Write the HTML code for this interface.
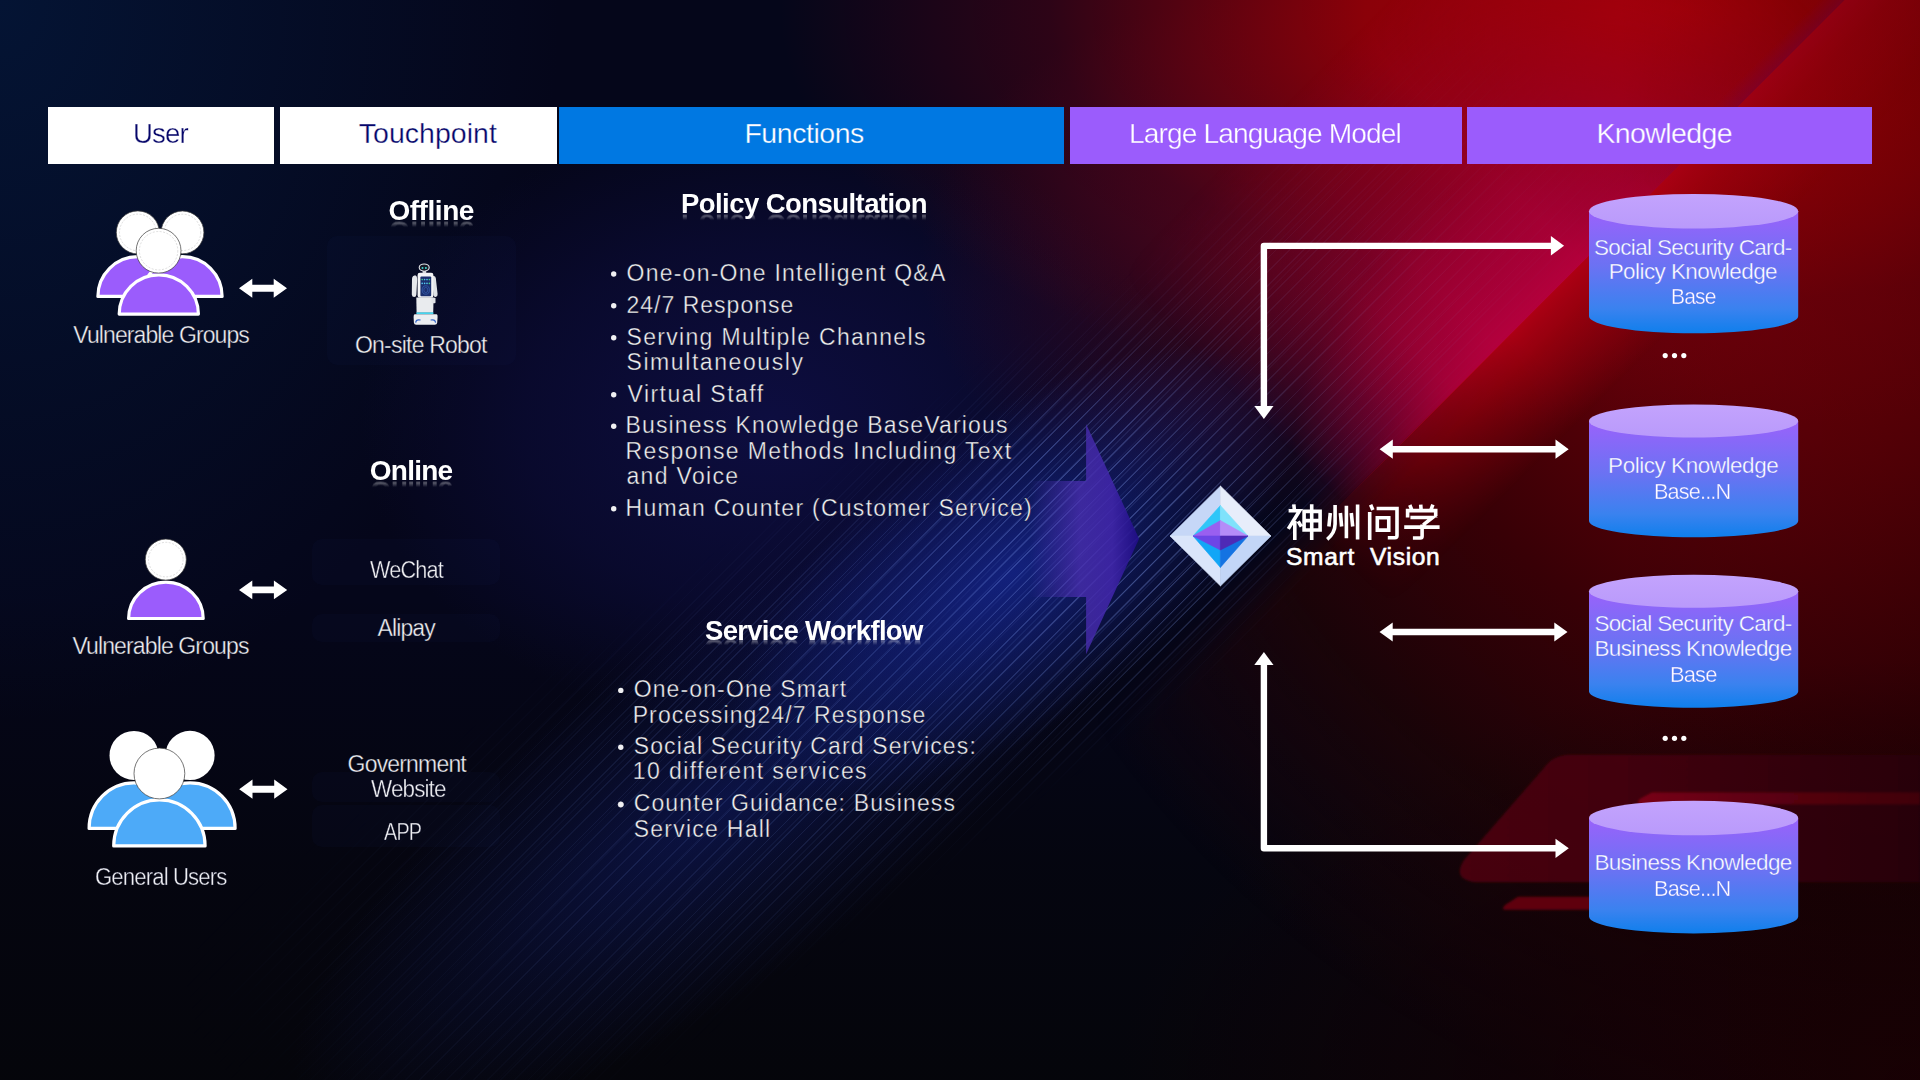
<!DOCTYPE html>
<html><head><meta charset="utf-8"><title>Smart Vision</title>
<style>
html,body{margin:0;padding:0;width:1920px;height:1080px;overflow:hidden;background:#05061a}
.abs{position:absolute}
.t{position:absolute;font-family:"Liberation Sans",sans-serif;line-height:1;white-space:nowrap;color:#fff}
.hb{position:absolute;top:107px;height:57px}
.hd{font-size:28px}
.b{font-weight:bold}
.ul{font-size:23px;letter-spacing:1.2px;color:#f4f4fa}
.cy{font-size:22px;color:#f6f4ff;text-align:center;width:240px}
.lab{font-size:22px;color:#f2f2f2}
.rf{-webkit-box-reflect:below -8.5px linear-gradient(transparent 62%,rgba(0,0,0,.35) 78%,transparent 86%)}
.tk{-webkit-text-stroke:0.5px rgba(10,12,40,0.75)}
.tc{-webkit-text-stroke:0.5px rgba(95,105,240,0.7)}
.tw{-webkit-text-stroke:0.5px rgba(255,255,255,0.7)}
.tb{-webkit-text-stroke:0.5px rgba(0,120,226,0.7)}
.sv{-webkit-text-stroke:0.6px #fff}
.tp{-webkit-text-stroke:0.5px rgba(155,92,252,0.7)}
</style></head><body>
<div id="root" style="position:relative;width:1920px;height:1080px;overflow:hidden">
<!--BG-->
<div class="abs" style="left:0;top:0;width:1920px;height:1080px;background:linear-gradient(to bottom,rgba(5,5,9,0) 55%,rgba(5,5,9,0.6) 80%,rgba(5,5,9,0.9) 100%)"></div>
<div class="abs" style="left:0;top:0;width:1920px;height:1080px;background:radial-gradient(ellipse 560px 720px at 0 0,#041434 0%,rgba(4,20,52,0.55) 45%,rgba(4,20,52,0) 100%)"></div>
<div class="abs" style="left:360px;top:110px;width:820px;height:620px;background:radial-gradient(closest-side,rgba(14,14,68,0.9),rgba(14,14,68,0.45) 60%,rgba(14,14,68,0))"></div>
<div class="abs" style="left:0;top:0;width:1920px;height:1080px;background:radial-gradient(ellipse 330px 260px at 1250px 260px,rgba(72,6,32,0.75) 0%,rgba(60,6,34,0.45) 55%,rgba(50,6,34,0) 100%)"></div>
<div class="abs" style="left:0;top:0;width:1920px;height:1080px;-webkit-mask-image:linear-gradient(135deg,transparent 1280px,#000 1330px);background:radial-gradient(ellipse 1000px 1000px at 1920px 160px,#900008 0%,#660008 30%,#380006 56%,rgba(30,4,6,0.85) 76%,rgba(14,3,8,0) 100%)"></div>
<div class="abs" style="left:0;top:0;width:1920px;height:1080px;background:radial-gradient(ellipse 800px 420px at 1920px 1080px,rgba(28,0,4,0.9) 0%,rgba(22,0,4,0.6) 50%,rgba(20,0,4,0) 100%)"></div>
<div class="abs" style="left:0;top:0;width:1920px;height:1080px;background:radial-gradient(ellipse 900px 420px at 1680px 10px,rgba(166,0,4,1) 0%,rgba(162,0,6,0.85) 35%,rgba(120,0,16,0.35) 70%,rgba(100,0,20,0) 100%)"></div>
<div class="abs" style="left:10px;top:540px;width:1500px;height:440px;transform:rotate(-35.5deg)">
 <div class="abs" style="left:0;top:0;width:1500px;height:440px;background:radial-gradient(ellipse 330px 150px at 1065px 215px,rgba(22,40,150,0.75),rgba(22,40,150,0.35) 55%,rgba(22,40,150,0)),radial-gradient(ellipse 520px 170px at 700px 235px,rgba(18,32,120,0.5),rgba(18,32,120,0.2) 55%,rgba(18,32,120,0))"></div>
 <div class="abs" style="left:0;top:0;width:1500px;height:440px;-webkit-mask-image:linear-gradient(to right,transparent 8%,rgba(0,0,0,.3) 30%,rgba(0,0,0,.8) 50%,#000 60%,#000 78%,transparent 90%)">
  <div style="width:100%;height:100%;-webkit-mask-image:linear-gradient(to bottom,transparent 5%,#000 30%,#000 70%,transparent 95%)">
   <div class="abs" style="left:-300px;top:-400px;width:2100px;height:1240px;transform:rotate(-9.5deg);background:repeating-linear-gradient(to bottom,rgba(130,165,255,0.15) 0px,rgba(130,165,255,0.15) 1.2px,transparent 1.2px,transparent 9.6px),repeating-linear-gradient(to bottom,rgba(130,165,255,0.08) 0px,rgba(130,165,255,0.08) 1.4px,transparent 1.4px,transparent 27.5px)"></div>
  </div>
 </div>
</div>
<div class="abs" style="left:-100px;top:0;width:2400px;height:1200px;transform:rotate(-45deg)">
 <div class="abs" style="left:0;top:380px;width:2400px;height:323px;background:linear-gradient(to bottom,rgba(150,0,45,0) 0%,rgba(158,0,46,0.45) 40%,rgba(165,0,50,0.75) 66%,rgba(175,0,56,0.92) 90%,rgba(185,0,60,1) 100%);-webkit-mask-image:linear-gradient(to right,transparent 1440px,rgba(0,0,0,.45) 1530px,rgba(0,0,0,.85) 1600px,#000 1660px,#000 1780px,rgba(0,0,0,.35) 1960px,transparent 2120px)"></div>
 <div class="abs" style="left:1150px;top:402px;width:1000px;height:300px;background:radial-gradient(ellipse 260px 150px at 520px 300px,rgba(176,0,62,0.6) 0%,rgba(170,0,56,0.35) 50%,rgba(160,0,50,0) 100%)"></div>
 <div class="abs" style="left:1880px;top:684px;width:380px;height:36px;background:linear-gradient(to bottom,rgba(130,0,60,0) 0%,rgba(130,0,64,0.5) 50%,rgba(130,0,60,0) 100%);-webkit-mask-image:linear-gradient(to right,transparent 0%,#000 35%,#000 70%,transparent 100%)"></div>
 <div class="abs" style="left:0;top:702px;width:2400px;height:110px;background:linear-gradient(to bottom,rgba(178,0,20,0.95) 0%,rgba(170,0,16,0.7) 30%,rgba(150,0,10,0) 100%);-webkit-mask-image:linear-gradient(to right,transparent 1400px,rgba(0,0,0,.6) 1540px,#000 1680px)"></div>
 <div class="abs" style="left:0;top:390px;width:2400px;height:316px;-webkit-mask-image:linear-gradient(to right,transparent 1000px,rgba(0,0,0,.6) 1150px,#000 1250px,#000 1330px,rgba(0,0,0,.45) 1500px,rgba(0,0,0,.15) 1700px,transparent 1900px)">
  <div style="width:100%;height:100%;background:repeating-linear-gradient(to bottom,rgba(150,175,255,0.18) 0px,rgba(150,175,255,0.18) 1.2px,transparent 1.2px,transparent 9.6px),repeating-linear-gradient(to bottom,rgba(150,175,255,0.10) 0px,rgba(150,175,255,0.10) 1.4px,transparent 1.4px,transparent 27.5px);-webkit-mask-image:linear-gradient(to bottom,transparent 0%,#000 30%,#000 85%,transparent 100%)"></div>
 </div>
</div>
<svg class="abs" style="left:0;top:0" width="1920" height="1080" viewBox="0 0 1920 1080">
<defs>
<linearGradient id="trainG" x1="1450" y1="0" x2="1920" y2="0" gradientUnits="userSpaceOnUse">
<stop offset="0" stop-color="#52000e"/><stop offset="0.5" stop-color="#44000c"/><stop offset="1" stop-color="#330008"/>
</linearGradient>
<linearGradient id="stripeG" x1="1638" y1="0" x2="1920" y2="0" gradientUnits="userSpaceOnUse">
<stop offset="0" stop-color="#7a0014"/><stop offset="1" stop-color="#520010"/>
</linearGradient>
<filter id="tb" x="-10%" y="-10%" width="120%" height="120%"><feGaussianBlur stdDeviation="1.2"/></filter>
</defs>
<g filter="url(#tb)">
<path d="M1570,754.7 L1920,754.7 L1920,882.3 L1482,882.3 Q1450,882 1464,860 L1544,768 Q1553,755 1570,754.7 Z" fill="url(#trainG)" opacity="0.85"/>
<path d="M1652,792.5 L1920,792.5 L1920,804.2 L1640,804.2 Q1636,804 1640,799 Z" fill="url(#stripeG)"/>
<path d="M1518,896.7 L1600,896.7 L1600,909.7 L1505,909.7 Q1501,909.5 1505,905 Z" fill="#5e000d"/>
</g>
</svg>
<div class="abs" style="left:1620px;top:0;width:300px;height:1080px;background:linear-gradient(to left,rgba(16,0,0,0.28) 0%,rgba(16,0,0,0) 100%)"></div>
<!--/BG-->

<!-- header boxes -->
<div class="hb" style="left:48px;width:226px;background:#fff"></div>
<div class="hb" style="left:280px;width:277px;background:#fff"></div>
<div class="hb" style="left:559px;width:505px;background:#0078e2"></div>
<div class="hb" style="left:1070px;width:392px;background:#9b5cfc"></div>
<div class="hb" style="left:1467px;width:405px;background:#9b5cfc"></div>


<!--ICONS-->
<svg class="abs" style="left:0;top:0" width="1920" height="1080" viewBox="0 0 1920 1080">
<path d="M97.9,296.4 A39.9,39.8 0 0 1 177.7,296.4 Z" fill="#9b5cfc" stroke="#fff" stroke-width="3.2" stroke-linejoin="round"/>
<path d="M142.9,296.4 A39.6,39.8 0 0 1 222.1,296.4 Z" fill="#9b5cfc" stroke="#fff" stroke-width="3.2" stroke-linejoin="round"/>
<circle cx="137.8" cy="232.4" r="21.5" fill="#fff" stroke="#3a3a3a" stroke-width="0.7"/><circle cx="137.8" cy="232.4" r="18.3" fill="none" stroke="#c8c8c8" stroke-width="0.6" stroke-dasharray="2 1.5"/>
<circle cx="182.5" cy="232.4" r="21.4" fill="#fff" stroke="#3a3a3a" stroke-width="0.7"/><circle cx="182.5" cy="232.4" r="18.2" fill="none" stroke="#c8c8c8" stroke-width="0.6" stroke-dasharray="2 1.5"/>
<path d="M119.2,314.1 A39.6,39.3 0 0 1 198.4,314.1 Z" fill="#9b5cfc" stroke="#fff" stroke-width="3.2" stroke-linejoin="round"/>
<circle cx="158.6" cy="250.7" r="22.4" fill="#fff" stroke="#3a3a3a" stroke-width="0.7"/><circle cx="158.6" cy="250.7" r="19.2" fill="none" stroke="#c8c8c8" stroke-width="0.6" stroke-dasharray="2 1.5"/>
<path d="M128.6,618.5 A37.3,36.4 0 0 1 203.2,618.5 Z" fill="#9b5cfc" stroke="#fff" stroke-width="3.2" stroke-linejoin="round"/>
<circle cx="165.8" cy="559.6" r="20.5" fill="#fff" stroke="#3a3a3a" stroke-width="0.7"/><circle cx="165.8" cy="559.6" r="17.3" fill="none" stroke="#c8c8c8" stroke-width="0.6" stroke-dasharray="2 1.5"/>
<path d="M89.1,828.4 A44.9,45.5 0 0 1 178.9,828.4 Z" fill="#4daaf8" stroke="#fff" stroke-width="3.2" stroke-linejoin="round"/>
<path d="M144.9,828.4 A45.1,45.5 0 0 1 235.1,828.4 Z" fill="#4daaf8" stroke="#fff" stroke-width="3.2" stroke-linejoin="round"/>
<circle cx="134" cy="755.4" r="24.5" fill="#fff"/>
<circle cx="190" cy="755.4" r="24.6" fill="#fff"/>
<path d="M113.7,845.9 A45.7,46.0 0 0 1 205.1,845.9 Z" fill="#4daaf8" stroke="#fff" stroke-width="3.2" stroke-linejoin="round"/>
<circle cx="159.4" cy="773.5" r="25.4" fill="#fff" stroke="#3a3a3a" stroke-width="0.7"/>
<path d="M239,288.3 L252.3,278.8 L252.3,284.85 L273.7,284.85 L273.7,278.8 L287,288.3 L273.7,297.8 L273.7,291.75 L252.3,291.75 L252.3,297.8 Z" fill="#fff"/>
<path d="M239,589.9 L252.3,580.6 L252.3,586.4499999999999 L273.9,586.4499999999999 L273.9,580.6 L287.2,589.9 L273.9,599.1999999999999 L273.9,593.35 L252.3,593.35 L252.3,599.1999999999999 Z" fill="#fff"/>
<path d="M239.2,789.2 L252.5,779.6 L252.5,785.75 L274.2,785.75 L274.2,779.6 L287.5,789.2 L274.2,798.8000000000001 L274.2,792.6500000000001 L252.5,792.6500000000001 L252.5,798.8000000000001 Z" fill="#fff"/>
<path d="M1263.9,406.5 L1263.9,245.9 L1551,245.9" fill="none" stroke="#fff" stroke-width="6.4" stroke-linejoin="round"/>
<path d="M1550.9,236.1 L1564.1,245.8 L1550.9,255.4 Z" fill="#fff"/>
<path d="M1254.3,406 L1273.5,406 L1263.9,419 Z" fill="#fff"/>
<path d="M1263.9,664.5 L1263.9,848.3 L1556,848.3" fill="none" stroke="#fff" stroke-width="6.4" stroke-linejoin="round"/>
<path d="M1555.5,838.7 L1568.8,848.3 L1555.5,857.9 Z" fill="#fff"/>
<path d="M1254.3,665 L1273.5,665 L1263.9,652 Z" fill="#fff"/>
<path d="M1379.6,449.2 L1392.8,439.59999999999997 L1392.8,446.0 L1555.5,446.0 L1555.5,439.59999999999997 L1568.7,449.2 L1555.5,458.8 L1555.5,452.4 L1392.8,452.4 L1392.8,458.8 Z" fill="#fff"/>
<path d="M1379.5,632 L1392.7,622.6 L1392.7,628.8 L1554.3,628.8 L1554.3,622.6 L1567.5,632 L1554.3,641.4 L1554.3,635.2 L1392.7,635.2 L1392.7,641.4 Z" fill="#fff"/>
</svg>
<!--/ICONS-->
<!--GFX-->
<svg class="abs" style="left:0;top:0" width="1920" height="1080" viewBox="0 0 1920 1080">
<defs>
<linearGradient id="cylBody" x1="0" y1="0" x2="0" y2="1">
<stop offset="0" stop-color="#9a62fb"/><stop offset="0.45" stop-color="#6b72f3"/><stop offset="0.8" stop-color="#3a82ef"/><stop offset="1" stop-color="#0f7fec"/>
</linearGradient>
<linearGradient id="cylTop" x1="0" y1="0" x2="0" y2="1">
<stop offset="0" stop-color="#c3a3fd"/><stop offset="1" stop-color="#b99afb"/>
</linearGradient>
<linearGradient id="chev" x1="1030" y1="0" x2="1140" y2="0" gradientUnits="userSpaceOnUse">
<stop offset="0" stop-color="#4a2eb0" stop-opacity="0"/>
<stop offset="0.45" stop-color="#4a2eb0" stop-opacity="0.85"/>
<stop offset="0.75" stop-color="#3f25a8"/>
<stop offset="1" stop-color="#1e0c86"/>
</linearGradient>
</defs>
<path d="M1030,481 L1086.1,481 L1086.1,424 L1139.1,538.7 L1086.1,654.2 L1086.1,597 L1030,597 Z" fill="url(#chev)" opacity="0.9"/>
<rect x="327" y="236" width="189" height="129" rx="10" fill="#2a3a8a" fill-opacity="0.05"/>
<rect x="312" y="539" width="188" height="46" rx="10" fill="#2a3a8a" fill-opacity="0.05"/>
<rect x="312" y="614" width="188" height="28" rx="10" fill="#2a3a8a" fill-opacity="0.05"/>
<rect x="312" y="772" width="188" height="30" rx="10" fill="#2a3a8a" fill-opacity="0.05"/>
<rect x="312" y="805" width="188" height="42" rx="10" fill="#2a3a8a" fill-opacity="0.05"/>
<path d="M1589,211.2 L1589,316.3 A104.6,17.0 0 0 0 1798.2,316.3 L1798.2,211.2 Z" fill="url(#cylBody)"/>
<ellipse cx="1693.6" cy="211.2" rx="104.6" ry="17.299999999999983" fill="url(#cylTop)"/>
<path d="M1589,421 L1589,521 A104.6,16.200000000000045 0 0 0 1798.2,521 L1798.2,421 Z" fill="url(#cylBody)"/>
<ellipse cx="1693.6" cy="421" rx="104.6" ry="16.5" fill="url(#cylTop)"/>
<path d="M1589,591.3 L1589,691.5 A104.6,16.299999999999955 0 0 0 1798.2,691.5 L1798.2,591.3 Z" fill="url(#cylBody)"/>
<ellipse cx="1693.6" cy="591.3" rx="104.6" ry="16.5" fill="url(#cylTop)"/>
<path d="M1589,818 L1589,916.6 A104.6,16.799999999999955 0 0 0 1798.2,916.6 L1798.2,818 Z" fill="url(#cylBody)"/>
<ellipse cx="1693.6" cy="818" rx="104.6" ry="17.299999999999955" fill="url(#cylTop)"/>
<circle cx="1665.2" cy="355.6" r="2.6" fill="#fff"/>
<circle cx="1674.5" cy="355.6" r="2.6" fill="#fff"/>
<circle cx="1683.8" cy="355.6" r="2.6" fill="#fff"/>
<circle cx="1665.2" cy="738.3" r="2.6" fill="#fff"/>
<circle cx="1674.5" cy="738.3" r="2.6" fill="#fff"/>
<circle cx="1683.8" cy="738.3" r="2.6" fill="#fff"/>
<circle cx="613.7" cy="274.0" r="2.7" fill="#f0f0f2"/>
<circle cx="613.7" cy="305.7" r="2.7" fill="#f0f0f2"/>
<circle cx="613.7" cy="337.8" r="2.7" fill="#f0f0f2"/>
<circle cx="613.7" cy="394.8" r="2.7" fill="#f0f0f2"/>
<circle cx="613.7" cy="426.2" r="2.7" fill="#f0f0f2"/>
<circle cx="613.7" cy="508.7" r="2.7" fill="#f0f0f2"/>
<circle cx="620.8" cy="690.4" r="2.7" fill="#f0f0f2"/>
<circle cx="620.8" cy="747.2" r="2.7" fill="#f0f0f2"/>
<circle cx="620.8" cy="804.5" r="2.7" fill="#f0f0f2" stroke="#f0f0f2" stroke-width="0.6" stroke-linejoin="round"/>
<polygon points="1220.5,486 1170,536 1220.5,536" fill="#c6d7f7" stroke="#c6d7f7" stroke-width="0.6" stroke-linejoin="round"/>
<polygon points="1220.5,486 1271,536 1220.5,536" fill="#e7edfa" stroke="#e7edfa" stroke-width="0.6" stroke-linejoin="round"/>
<polygon points="1170,536 1220.5,586 1220.5,536" fill="#dae5fa" stroke="#dae5fa" stroke-width="0.6" stroke-linejoin="round"/>
<polygon points="1271,536 1220.5,586 1220.5,536" fill="#c3d6f7" stroke="#c3d6f7" stroke-width="0.6" stroke-linejoin="round"/>
<polygon points="1220.4,505.5 1193,536 1220.4,536" fill="#2fc6f8" stroke="#2fc6f8" stroke-width="0.6" stroke-linejoin="round"/>
<polygon points="1220.4,505.5 1248,536 1220.4,536" fill="#7fe2fb" stroke="#7fe2fb" stroke-width="0.6" stroke-linejoin="round"/>
<polygon points="1193,536 1220.4,567.4 1220.4,536" fill="#12a6f6" stroke="#12a6f6" stroke-width="0.6" stroke-linejoin="round"/>
<polygon points="1248,536 1220.4,567.4 1220.4,536" fill="#1473e2" stroke="#1473e2" stroke-width="0.6" stroke-linejoin="round"/>
<polygon points="1193,536 1220.4,520.6 1220.4,536" fill="#9a5ff0" stroke="#9a5ff0" stroke-width="0.6" stroke-linejoin="round"/>
<polygon points="1220.4,520.6 1248,536 1220.4,536" fill="#b58cf8" stroke="#b58cf8" stroke-width="0.6" stroke-linejoin="round"/>
<polygon points="1193,536 1220.4,536 1220.4,550" fill="#6d46e6" stroke="#6d46e6" stroke-width="0.6" stroke-linejoin="round"/>
<polygon points="1220.4,536 1248,536 1220.4,550" fill="#4e2ab6" stroke="#4e2ab6" stroke-width="0.6" stroke-linejoin="round"/>
<path d="M1293.8,504.4 L1294.4,510 M1288.6,510.7 L1299.6,510.7 L1288.3,528.9 M1294.8,521 L1294.8,540 M1298.2,521.4 L1301.3,526.6 M1304.1,511.4 L1320.1,511.4 L1320.1,530 L1304.1,530 Z M1304.1,520.6 L1320.1,520.6 M1311.7,504.2 L1311.7,540 M1330.3,513 L1328.9,526.5 M1335.1,505 L1335.1,524 Q1335,533 1327.2,539.3 M1340.4,513 L1341.6,526.5 M1346.4,505.8 L1346.4,538.3 M1351.3,513 L1352.7,526.5 M1357.6,504.6 L1357.6,539.6 M1370.6,504.8 L1372.9,510 M1369.7,512 L1369.7,540 M1376.6,508.5 L1397,508.5 L1397,535.5 Q1397,537.7 1394.8,537.7 L1387.8,537.7 M1377.3,517.8 L1388.75,517.8 L1388.75,530.1 L1377.3,530.1 Z M1409.8,505 L1411.7,509.6 M1420.7,504.6 L1421.1,509.6 M1432.9,504.6 L1431,509.6 M1407.6,517.6 L1407.6,510.6 L1435.7,510.6 L1435.7,517.6 M1410.4,517.5 L1432.6,517.5 L1423.2,524.8 M1422.1,524.5 L1422.1,536.2 Q1422.1,538 1420.3,538 L1412.9,538 M1404.2,527.1 L1439.6,527.1" fill="none" stroke="#fff" stroke-width="3.6" stroke-linejoin="miter"/>
<g>
<path d="M413.2,276 Q412,277 412,279 L411.8,294.5 Q412,297 414.2,297 Q416.2,297 416.4,294.5 L417.2,279 Q417.3,276 415.2,275.3 Z" fill="#e6e8ec"/>
<path d="M433,276 Q435.3,275.5 435.8,278 L437.6,294 Q437.8,296.8 435.7,297 Q433.8,297.2 433.4,295 L432.2,279 Z" fill="#dfe2e6"/>
<rect x="417.6" y="272.8" width="15.8" height="25" rx="2.2" fill="#f3f4f6"/>
<rect x="420.4" y="276.4" width="10.8" height="19.8" rx="1" fill="#1b2f6e"/>
<g fill="#3ccf86"><circle cx="422.2" cy="279.6" r="0.8"/><circle cx="429.4" cy="279.6" r="0.8"/><circle cx="429.4" cy="283.4" r="0.8"/></g>
<g fill="#52c6f0"><circle cx="424.6" cy="279.6" r="0.8"/><circle cx="427" cy="279.6" r="0.8"/><circle cx="422.2" cy="283.4" r="0.8"/><circle cx="424.6" cy="283.4" r="0.8"/><circle cx="427" cy="283.4" r="0.8"/></g>
<ellipse cx="425.8" cy="290" rx="3.6" ry="4.2" fill="none" stroke="#3a64b8" stroke-width="0.7"/>
<ellipse cx="425.8" cy="290" rx="2" ry="2.6" fill="none" stroke="#3a64b8" stroke-width="0.6"/>
<path d="M416.3,297.6 L433.6,297.6 L433.2,312.8 L416.6,312.8 Z" fill="#e9ebee"/>
<rect x="431.5" y="297.8" width="4" height="5.5" rx="0.8" fill="#e0e2e6"/>
<rect x="416.4" y="312.4" width="17" height="1.8" fill="#45d6ef"/>
<path d="M414.6,314.2 L436.6,314.2 Q437.8,314.4 437.6,317 L437.2,322.8 Q437,324.8 434.8,324.8 L416.2,324.8 Q414,324.8 413.9,322.8 L413.6,317 Q413.6,314.4 414.6,314.2 Z" fill="#eceef1"/>
<path d="M415.6,322.6 Q416,319.6 418.8,319.8 L420.6,320" fill="none" stroke="#3566c8" stroke-width="1.2"/>
<path d="M435.6,322.6 Q435.2,319.6 432.4,319.8 L430.6,320" fill="none" stroke="#3566c8" stroke-width="1.2"/>
<ellipse cx="424.2" cy="267.6" rx="5" ry="3.6" fill="#161925" stroke="#e4e6ea" stroke-width="1.1"/>
<circle cx="422.5" cy="267.9" r="1" fill="#3fd7d0"/><circle cx="425.9" cy="267.9" r="1" fill="#3fd7d0"/>
<rect x="422.6" y="271" width="3.6" height="2.2" fill="#d8dade"/>
</g>
</svg>
<!--/GFX-->
<!--TEXT-->
<div class="t tw" style="left:132.7px;top:119.3px;font-size:28.5px;color:#06066a;letter-spacing:-0.9px;transform:scaleX(0.9691);transform-origin:0 0;">User</div>
<div class="t tw" style="left:358.8px;top:119.3px;font-size:28.5px;color:#06066a;letter-spacing:0.022px;">Touchpoint</div>
<div class="t tb" style="left:744.4px;top:118.8px;font-size:28.5px;color:#ffffff;letter-spacing:-0.45px;">Functions</div>
<div class="t tp" style="left:1129.0px;top:118.8px;font-size:28.5px;color:#ffffff;letter-spacing:-0.9px;transform:scaleX(0.9883);transform-origin:0 0;">Large Language Model</div>
<div class="t tp" style="left:1596.4px;top:118.8px;font-size:28.5px;color:#ffffff;letter-spacing:-0.613px;">Knowledge</div>
<div class="t tk" style="left:73.3px;top:324.0px;font-size:23px;color:#f0f0f2;letter-spacing:-0.9px;">Vulnerable Groups</div>
<div class="t tk" style="left:72.4px;top:635.3px;font-size:23px;color:#f0f0f2;letter-spacing:-0.869px;">Vulnerable Groups</div>
<div class="t tk" style="left:94.8px;top:866.0px;font-size:23px;color:#f0f0f2;letter-spacing:-0.9px;transform:scaleX(0.9625);transform-origin:0 0;">General Users</div>
<div class="t tk" style="left:355.0px;top:334.1px;font-size:23px;color:#f0f0f2;letter-spacing:-0.783px;">On-site Robot</div>
<div class="t tk" style="left:369.7px;top:559.1px;font-size:23px;color:#f0f0f2;letter-spacing:-0.9px;transform:scaleX(0.9436);transform-origin:0 0;">WeChat</div>
<div class="t tk" style="left:377.6px;top:617.2px;font-size:23px;color:#f0f0f2;letter-spacing:-0.9px;">Alipay</div>
<div class="t tk" style="left:347.6px;top:753.3px;font-size:23px;color:#f0f0f2;letter-spacing:-0.822px;">Government</div>
<div class="t tk" style="left:370.8px;top:778.0px;font-size:23px;color:#f0f0f2;letter-spacing:-0.9px;transform:scaleX(0.9766);transform-origin:0 0;">Website</div>
<div class="t tk" style="left:384.4px;top:821.0px;font-size:23px;color:#f0f0f2;letter-spacing:-0.9px;transform:scaleX(0.8605);transform-origin:0 0;">APP</div>
<div class="t rf" style="left:388.4px;top:196.8px;font-size:28px;color:#ffffff;font-weight:700;letter-spacing:-0.45px;">Offline</div>
<div class="t rf" style="left:369.8px;top:456.8px;font-size:28px;color:#ffffff;font-weight:700;letter-spacing:-0.76px;">Online</div>
<div class="t rf" style="left:681.0px;top:190.2px;font-size:27.5px;color:#ffffff;font-weight:700;letter-spacing:-0.561px;">Policy Consultation</div>
<div class="t rf" style="left:705.0px;top:616.8px;font-size:27.5px;color:#ffffff;font-weight:700;letter-spacing:-0.693px;">Service Workflow</div>
<div class="t tk" style="left:626.5px;top:261.8px;font-size:23px;color:#f0f0f2;letter-spacing:1.244px;">One-on-One Intelligent Q&amp;A</div>
<div class="t tk" style="left:626.5px;top:293.5px;font-size:23px;color:#f0f0f2;letter-spacing:1.008px;">24/7 Response</div>
<div class="t tk" style="left:626.5px;top:325.6px;font-size:23px;color:#f0f0f2;letter-spacing:1.321px;">Serving Multiple Channels</div>
<div class="t tk" style="left:626.5px;top:350.8px;font-size:23px;color:#f0f0f2;letter-spacing:1.577px;">Simultaneously</div>
<div class="t tk" style="left:627.5px;top:382.6px;font-size:23px;color:#f0f0f2;letter-spacing:1.458px;">Virtual Staff</div>
<div class="t tk" style="left:625.5px;top:414.0px;font-size:23px;color:#f0f0f2;letter-spacing:1.148px;">Business Knowledge BaseVarious</div>
<div class="t tk" style="left:625.5px;top:439.9px;font-size:23px;color:#f0f0f2;letter-spacing:1.363px;">Response Methods Including Text</div>
<div class="t tk" style="left:626.5px;top:465.1px;font-size:23px;color:#f0f0f2;letter-spacing:1.325px;">and Voice</div>
<div class="t tk" style="left:625.5px;top:496.5px;font-size:23px;color:#f0f0f2;letter-spacing:1.268px;">Human Counter (Customer Service)</div>
<div class="t tk" style="left:633.7px;top:678.2px;font-size:23px;color:#f0f0f2;letter-spacing:1.12px;">One-on-One Smart</div>
<div class="t tk" style="left:632.7px;top:703.7px;font-size:23px;color:#f0f0f2;letter-spacing:1.095px;">Processing24/7 Response</div>
<div class="t tk" style="left:633.7px;top:735.0px;font-size:23px;color:#f0f0f2;letter-spacing:1.131px;">Social Security Card Services:</div>
<div class="t tk" style="left:632.7px;top:760.4px;font-size:23px;color:#f0f0f2;letter-spacing:1.425px;">10 different services</div>
<div class="t tk" style="left:633.7px;top:792.3px;font-size:23px;color:#f0f0f2;letter-spacing:1.14px;">Counter Guidance: Business</div>
<div class="t tk" style="left:633.7px;top:817.8px;font-size:23px;color:#f0f0f2;letter-spacing:1.255px;">Service Hall</div>
<div class="t tc" style="left:1594.0px;top:236.6px;font-size:22.5px;color:#ffffff;letter-spacing:-0.65px;">Social Security Card-</div>
<div class="t tc" style="left:1608.7px;top:261.0px;font-size:22.5px;color:#ffffff;letter-spacing:-0.58px;">Policy Knowledge</div>
<div class="t tc" style="left:1670.5px;top:286.4px;font-size:22.5px;color:#ffffff;letter-spacing:-0.9px;transform:scaleX(0.9348);transform-origin:0 0;">Base</div>
<div class="t tc" style="left:1608.1px;top:455.4px;font-size:22.5px;color:#ffffff;letter-spacing:-0.467px;">Policy Knowledge</div>
<div class="t tc" style="left:1654.4px;top:480.6px;font-size:22.5px;color:#ffffff;letter-spacing:-0.9px;transform:scaleX(0.9649);transform-origin:0 0;">Base...N</div>
<div class="t tc" style="left:1594.4px;top:613.3px;font-size:22.5px;color:#ffffff;letter-spacing:-0.675px;">Social Security Card-</div>
<div class="t tc" style="left:1594.5px;top:638.3px;font-size:22.5px;color:#ffffff;letter-spacing:-0.659px;">Business Knowledge</div>
<div class="t tc" style="left:1669.6px;top:664.2px;font-size:22.5px;color:#ffffff;letter-spacing:-0.9px;transform:scaleX(0.9739);transform-origin:0 0;">Base</div>
<div class="t tc" style="left:1594.4px;top:852.0px;font-size:22.5px;color:#ffffff;letter-spacing:-0.647px;">Business Knowledge</div>
<div class="t tc" style="left:1654.4px;top:877.5px;font-size:22.5px;color:#ffffff;letter-spacing:-0.9px;transform:scaleX(0.9662);transform-origin:0 0;">Base...N</div>
<div class="t sv" style="left:1286.0px;top:545.0px;font-size:24.6px;color:#ffffff;letter-spacing:0.667px;">Smart&#160;&#160;Vision</div>
<!--/TEXT-->
</div>
</body></html>
